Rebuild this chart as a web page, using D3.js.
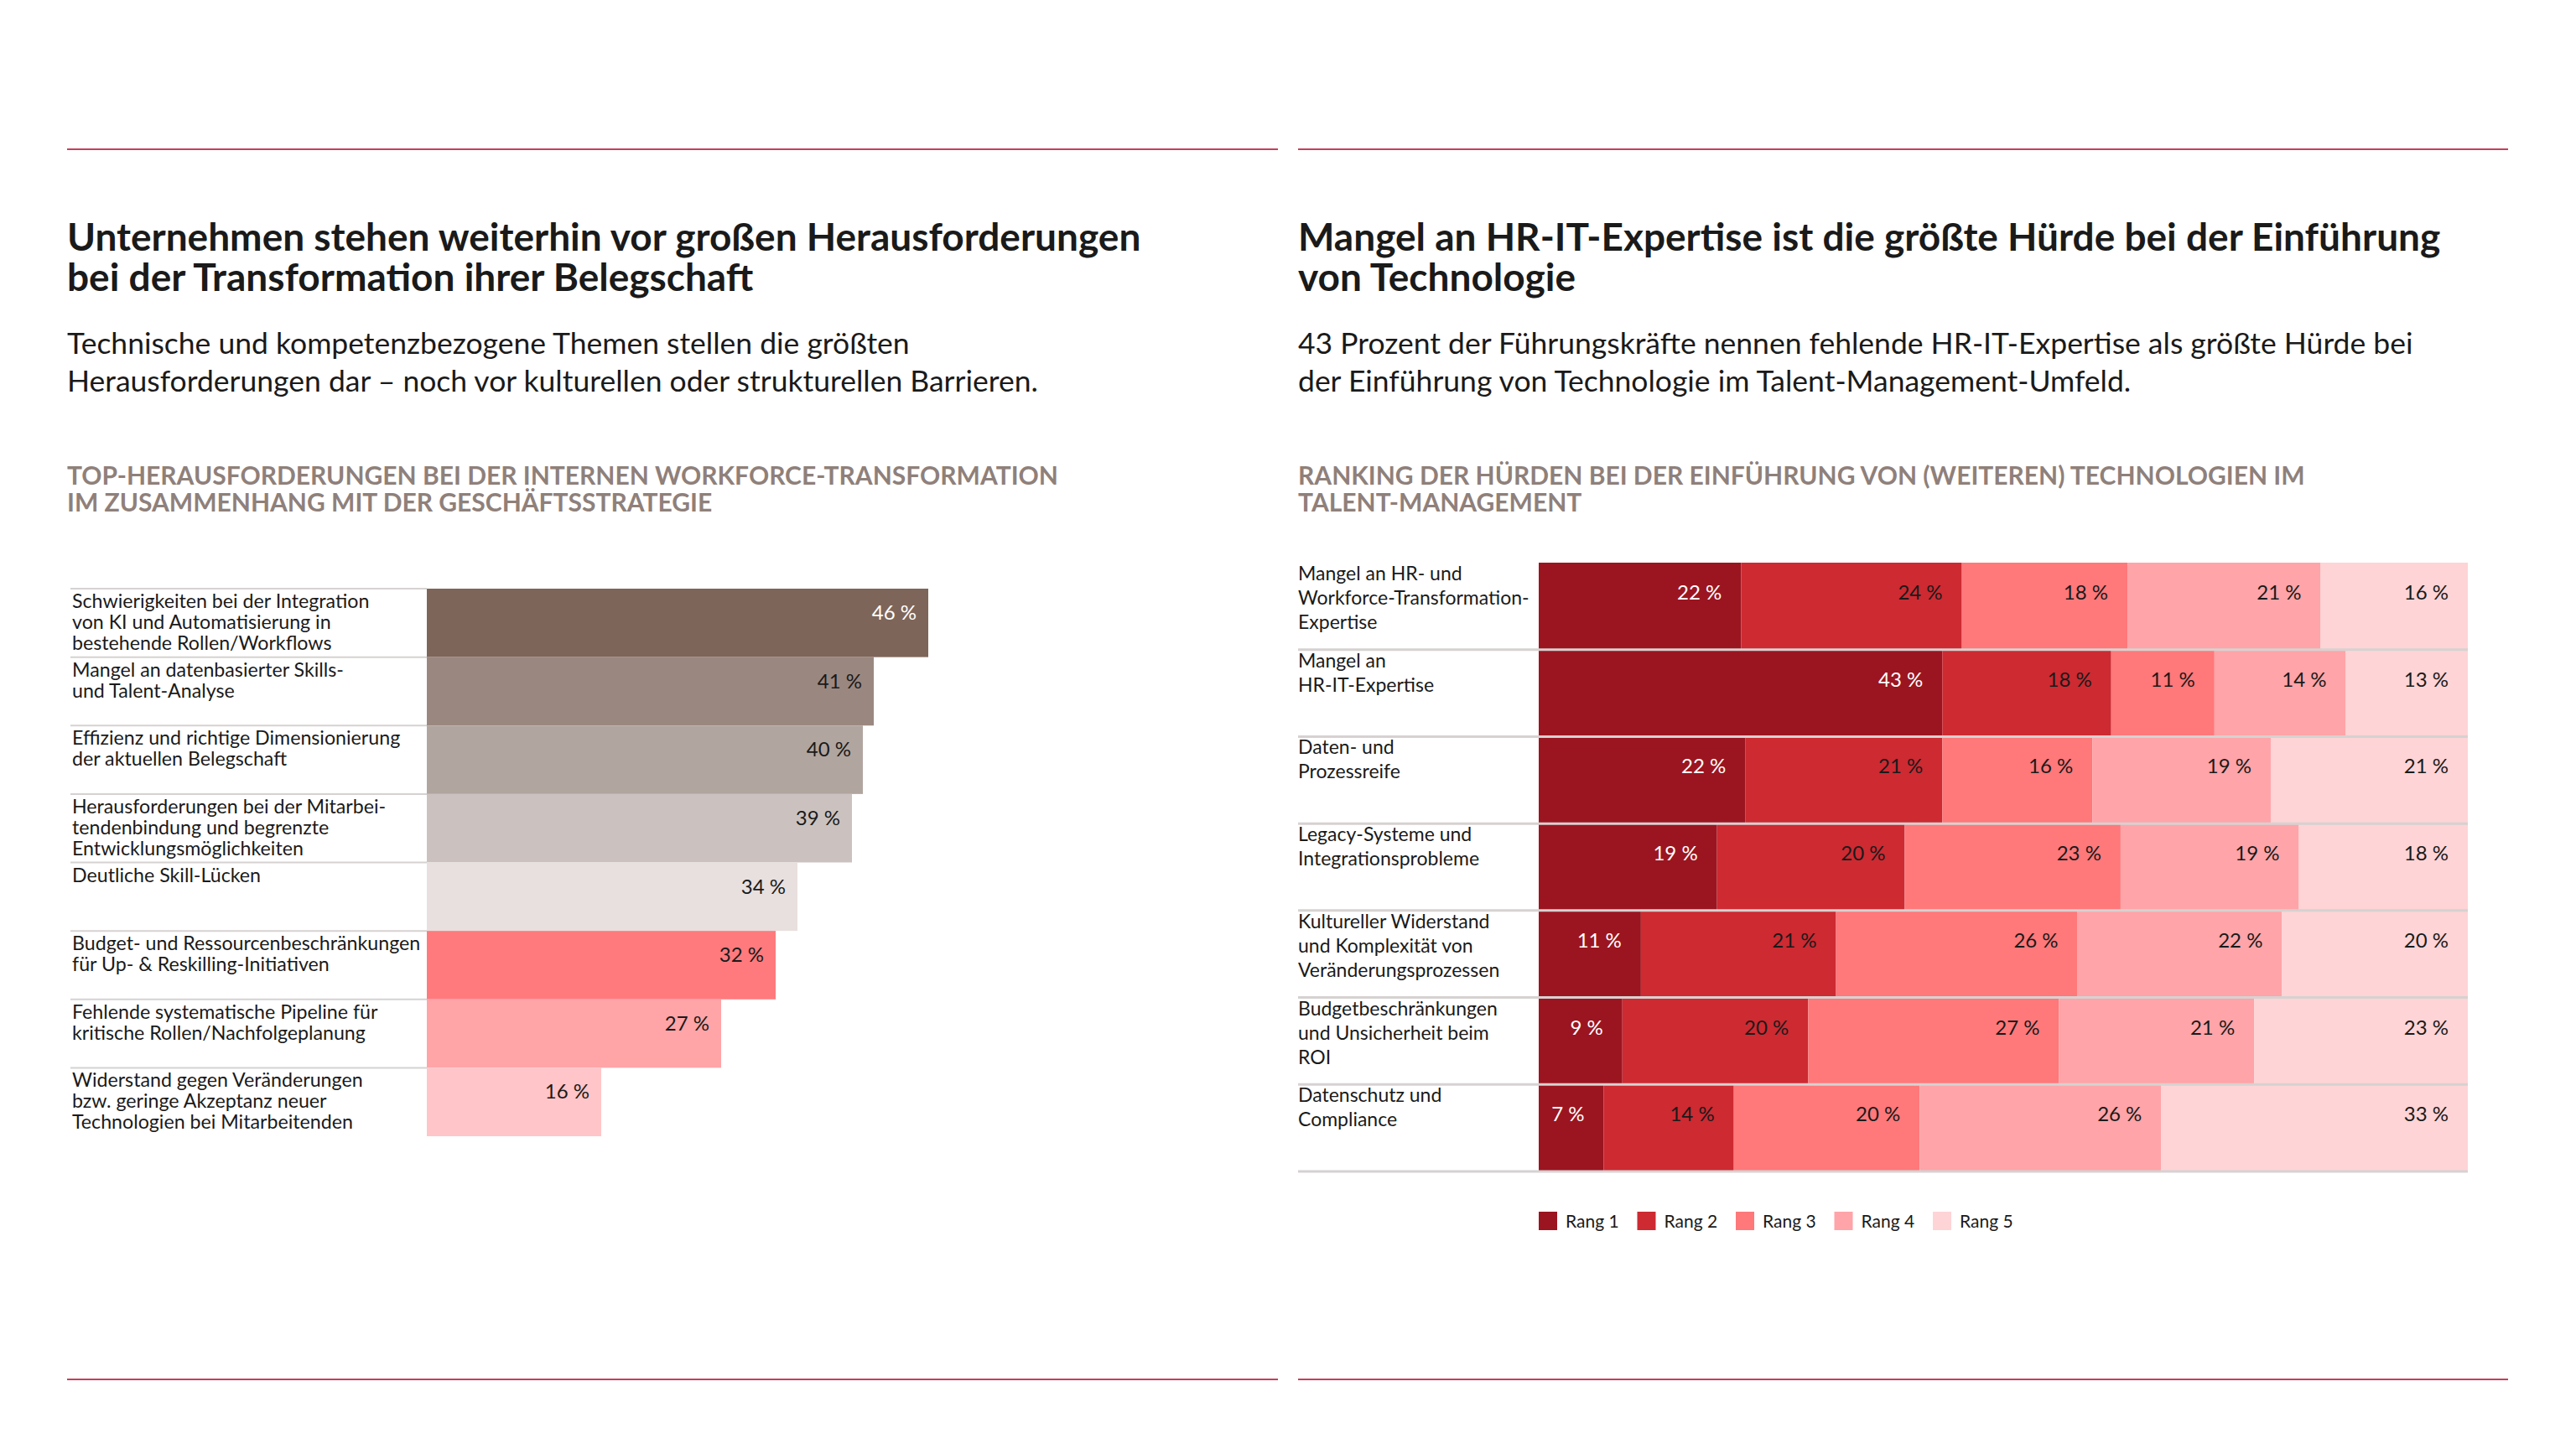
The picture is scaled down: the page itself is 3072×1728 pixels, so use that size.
<!DOCTYPE html>
<html lang="de">
<head>
<meta charset="utf-8">
<script src="https://cdn.jsdelivr.net/npm/d3@7"></script>
<style>
  html, body { margin: 0; padding: 0; background: #fff; }
  svg { display: block; font-family: Lato, "Noto Sans", sans-serif; }
</style>
</head>
<body>
<svg id="chart" width="3072" height="1728"></svg>
<script>
// ─── Data ─────────────────────────────────────────────────────────────────────

const LEFT_TITLE    = ["Unternehmen stehen weiterhin vor großen Herausforderungen", "bei der Transformation ihrer Belegschaft"];
const LEFT_SUBTITLE = ["Technische und kompetenzbezogene Themen stellen die größten", "Herausforderungen dar – noch vor kulturellen oder strukturellen Barrieren."];
const LEFT_HEADING  = ["TOP-HERAUSFORDERUNGEN BEI DER INTERNEN WORKFORCE-TRANSFORMATION", "IM ZUSAMMENHANG MIT DER GESCHÄFTSSTRATEGIE"];

const LEFT_LABELS = [
  ["Schwierigkeiten bei der Integration", "von KI und Automatisierung in", "bestehende Rollen/Workflows"],
  ["Mangel an datenbasierter Skills-", "und Talent-Analyse"],
  ["Effizienz und richtige Dimensionierung", "der aktuellen Belegschaft"],
  ["Herausforderungen bei der Mitarbei-", "tendenbindung und begrenzte", "Entwicklungsmöglichkeiten"],
  ["Deutliche Skill-Lücken"],
  ["Budget- und Ressourcenbeschränkungen", "für Up- & Reskilling-Initiativen"],
  ["Fehlende systematische Pipeline für", "kritische Rollen/Nachfolgeplanung"],
  ["Widerstand gegen Veränderungen", "bzw. geringe Akzeptanz neuer", "Technologien bei Mitarbeitenden"],
];
const LEFT_VALUES = [46, 41, 40, 39, 34, 32, 27, 16];

const RIGHT_TITLE    = ["Mangel an HR-IT-Expertise ist die größte Hürde bei der Einführung", "von Technologie"];
const RIGHT_SUBTITLE = ["43 Prozent der Führungskräfte nennen fehlende HR-IT-Expertise als größte Hürde bei", "der Einführung von Technologie im Talent-Management-Umfeld."];
const RIGHT_HEADING  = ["RANKING DER HÜRDEN BEI DER EINFÜHRUNG VON (WEITEREN) TECHNOLOGIEN IM", "TALENT-MANAGEMENT"];

const RIGHT_LABELS = [
  ["Mangel an HR- und", "Workforce-Transformation-", "Expertise"],
  ["Mangel an", "HR-IT-Expertise"],
  ["Daten- und", "Prozessreife"],
  ["Legacy-Systeme und", "Integrationsprobleme"],
  ["Kultureller Widerstand", "und Komplexität von", "Veränderungsprozessen"],
  ["Budgetbeschränkungen", "und Unsicherheit beim", "ROI"],
  ["Datenschutz und", "Compliance"],
];
const RANKS = ["Rang 1", "Rang 2", "Rang 3", "Rang 4", "Rang 5"];
const RANK_1 = [22, 43, 22, 19, 11, 9, 7];
const RANK_2 = [24, 18, 21, 20, 21, 20, 14];
const RANK_3 = [18, 11, 16, 23, 26, 27, 20];
const RANK_4 = [21, 14, 19, 19, 22, 21, 26];
const RANK_5 = [16, 13, 21, 18, 20, 23, 33];

// ─── Styles ───────────────────────────────────────────────────────────────────

const LEFT_COLORS  = ["#7e6559", "#9a8880", "#b1a59f", "#cbc2bf", "#e8e0de", "#ff7a7d", "#ffa4a7", "#ffc5c8"];
const RANK_COLORS  = ["#9b1520", "#cd2a32", "#ff787a", "#ffa4a8", "#fed4d6"];
const RULE_COLOR   = "#c4405a";
const HEAD_COLOR   = "#8f807a";
const TEXT_COLOR   = "#1a1a1a";
const GRID_COLOR   = "#d6d2d1";

const svg = d3.select("#chart");

function lines(g, arr, x, y, lh, attrs) {
  const t = g.append("text").attr("x", x).attr("y", y);
  Object.entries(attrs || {}).forEach(([k, v]) => t.attr(k, v));
  arr.forEach((s, i) => t.append("tspan").attr("x", x).attr("dy", i ? lh : 0).text(s));
  return t;
}

function header(x0, x1, title, subtitle, heading) {
  svg.append("line").attr("x1", x0).attr("x2", x1).attr("y1", 178).attr("y2", 178)
    .attr("stroke", RULE_COLOR).attr("stroke-width", 2);
  svg.append("line").attr("x1", x0).attr("x2", x1).attr("y1", 1645).attr("y2", 1645)
    .attr("stroke", RULE_COLOR).attr("stroke-width", 2);
  lines(svg, title, x0, 299, 48, { "font-size": 46, "font-weight": 700, fill: TEXT_COLOR });
  lines(svg, subtitle, x0, 422, 45, { "font-size": 35.5, fill: TEXT_COLOR });
  lines(svg, heading, x0, 578, 32, { "font-size": 30, "font-weight": 700, fill: HEAD_COLOR });
}

// ─── Left: horizontal bars ────────────────────────────────────────────────────

header(80, 1524, LEFT_TITLE, LEFT_SUBTITLE, LEFT_HEADING);

const yL = d3.scaleBand().domain(d3.range(LEFT_VALUES.length)).range([702, 1355]);
const xL = d3.scaleLinear().domain([0, 46]).range([509, 1107]);

const left = svg.append("g");
const rowL = left.selectAll("g.row").data(LEFT_VALUES).join("g").attr("class", "row");

rowL.append("line")
  .attr("x1", 84).attr("x2", xL(0))
  .attr("y1", (d, i) => yL(i)).attr("y2", (d, i) => yL(i))
  .attr("stroke", GRID_COLOR).attr("stroke-width", 2);

rowL.append("rect")
  .attr("x", xL(0)).attr("y", (d, i) => yL(i))
  .attr("width", d => xL(d) - xL(0)).attr("height", yL.bandwidth())
  .attr("fill", (d, i) => LEFT_COLORS[i]);

rowL.append("text")
  .attr("x", d => xL(d) - 14).attr("y", (d, i) => yL(i) + 37)
  .attr("text-anchor", "end").attr("font-size", 24)
  .attr("fill", (d, i) => i === 0 ? "#fff" : TEXT_COLOR)
  .text(d => d + " %");

rowL.each(function (d, i) {
  lines(d3.select(this), LEFT_LABELS[i], 86, yL(i) + 23, 25, { "font-size": 23.2, fill: TEXT_COLOR });
});

// ─── Right: 100 % stacked ranking bars ────────────────────────────────────────

header(1548, 2991, RIGHT_TITLE, RIGHT_SUBTITLE, RIGHT_HEADING);

const rankSeries = [RANK_1, RANK_2, RANK_3, RANK_4, RANK_5];
const rows = RIGHT_LABELS.map((l, i) => {
  const o = { i };
  rankSeries.forEach((s, k) => { o[k] = s[i]; });
  return o;
});
const stacked = d3.stack().keys(d3.range(5)).offset(d3.stackOffsetExpand)(rows);

const yR = d3.scaleBand().domain(d3.range(RIGHT_LABELS.length)).range([671, 1397]);
const xR = d3.scaleLinear().domain([0, 1]).range([1835, 2943]);

const right = svg.append("g");
const layer = right.selectAll("g.layer").data(stacked).join("g").attr("class", "layer")
  .attr("fill", (s, k) => RANK_COLORS[k]);

layer.selectAll("rect").data(s => s).join("rect")
  .attr("x", d => xR(d[0])).attr("y", d => yR(d.data.i))
  .attr("width", d => xR(d[1]) - xR(d[0])).attr("height", yR.bandwidth());

layer.each(function (s, k) {
  d3.select(this).selectAll("text").data(s).join("text")
    .attr("x", d => xR(d[1]) - 23).attr("y", d => yR(d.data.i) + 44)
    .attr("text-anchor", "end").attr("font-size", 24)
    .attr("fill", k === 0 ? "#fff" : TEXT_COLOR)
    .text(d => d.data[k] + " %");
});

// row separators across labels and bars
right.selectAll("line.sep").data(d3.range(1, RIGHT_LABELS.length + 1)).join("line")
  .attr("class", "sep")
  .attr("x1", 1548).attr("x2", xR(1))
  .attr("y1", i => yR.range()[0] + i * yR.step()).attr("y2", i => yR.range()[0] + i * yR.step())
  .attr("stroke", GRID_COLOR).attr("stroke-width", 3);

RIGHT_LABELS.forEach((l, i) => {
  lines(right, l, 1548, yR(i) + 21, 29, { "font-size": 23, fill: TEXT_COLOR });
});

// legend
const leg = right.selectAll("g.leg").data(RANKS).join("g").attr("class", "leg")
  .attr("transform", (d, k) => `translate(${1835 + k * 117.5},1445)`);
leg.append("rect").attr("width", 22).attr("height", 22).attr("fill", (d, k) => RANK_COLORS[k]);
leg.append("text").attr("x", 32).attr("y", 19).attr("font-size", 21).attr("fill", TEXT_COLOR).text(d => d);
</script>
</body>
</html>
